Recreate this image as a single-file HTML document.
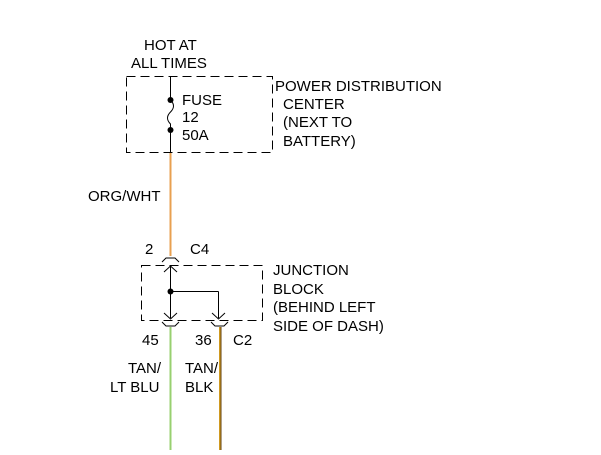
<!DOCTYPE html>
<html><head><style>
body{margin:0;background:#fff}
svg text{font-family:"Liberation Sans",sans-serif;font-size:15px;fill:#000}
</style></head><body>
<svg width="601" height="450" xmlns="http://www.w3.org/2000/svg">
<g fill="none" stroke="#000" stroke-width="1">
<rect x="126.5" y="76.5" width="146" height="76" stroke-dasharray="9,5"/>
<line x1="170.5" y1="77" x2="170.5" y2="100"/>
<path d="M170.5 100 q6 6 0 12 q-6 6 0 12 l0 6"/>
<line x1="170.5" y1="130" x2="170.5" y2="153"/>
<rect x="141.5" y="265.5" width="121" height="55" stroke-dasharray="9,5"/>
<path d="M162 262 l4 -4 h9 l4 4"/>
<line x1="170.5" y1="266" x2="170.5" y2="318"/>
<path d="M164 272 l6.5 -6 l6.5 6"/>
<path d="M164 313 l6.5 6 l6.5 -6"/>
<line x1="170.5" y1="291.5" x2="218.5" y2="291.5"/>
<line x1="218.5" y1="291.5" x2="218.5" y2="318"/>
<path d="M212 313 l6.5 6 l6.5 -6"/>
<path d="M162 322 l4 4 h9 l4 -4"/>
<path d="M211 322 l4 4 h9 l4 -4"/>
</g>
<circle cx="170.5" cy="100" r="3"/>
<circle cx="170.5" cy="130" r="3"/>
<circle cx="170.5" cy="291.5" r="3"/>
<line x1="170.5" y1="153" x2="170.5" y2="256" stroke="#e8a050" stroke-width="2"/>
<line x1="170.5" y1="327" x2="170.5" y2="450" stroke="#98d070" stroke-width="2"/>
<line x1="220" y1="327" x2="220" y2="450" stroke="#d09a20" stroke-width="2"/>
<line x1="221" y1="327" x2="221" y2="450" stroke="#604010" stroke-width="1"/>
<text x="144" y="50">HOT AT</text>
<text x="131" y="68">ALL TIMES</text>
<text x="182" y="105">FUSE</text>
<text x="182" y="122">12</text>
<text x="182" y="140">50A</text>
<text x="275" y="91">POWER DISTRIBUTION</text>
<text x="283" y="109">CENTER</text>
<text x="283" y="127">(NEXT TO</text>
<text x="283" y="146">BATTERY)</text>
<text x="88" y="201">ORG/WHT</text>
<text x="145" y="254">2</text>
<text x="190" y="254">C4</text>
<text x="273" y="275">JUNCTION</text>
<text x="273" y="294">BLOCK</text>
<text x="273" y="312">(BEHIND LEFT</text>
<text x="273" y="331">SIDE OF DASH)</text>
<text x="142" y="345">45</text>
<text x="195" y="345">36</text>
<text x="233" y="345">C2</text>
<text x="128" y="373">TAN/</text>
<text x="110" y="392">LT BLU</text>
<text x="185" y="373">TAN/</text>
<text x="185" y="392">BLK</text>
</svg>
</body></html>
